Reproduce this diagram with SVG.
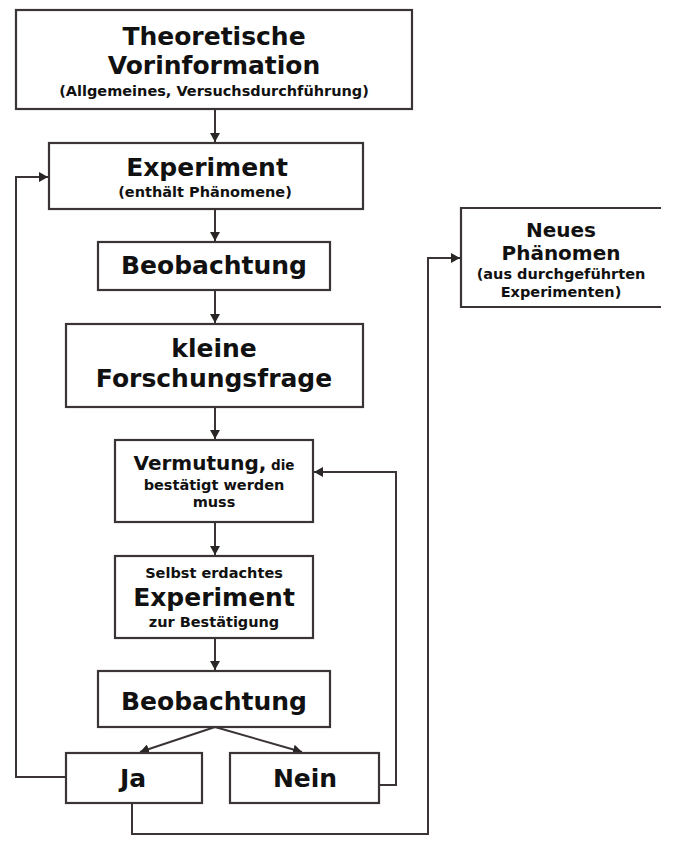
<svg xmlns="http://www.w3.org/2000/svg" width="673" height="853" viewBox="0 0 673 853">
<defs>
<marker id="ah" markerWidth="10" markerHeight="10" refX="9" refY="5" orient="auto" markerUnits="userSpaceOnUse">
<path d="M0,0 L9,5 L0,10 Z" fill="#2a2626"/>
</marker>
<style>
.box{fill:#fff;stroke:#3a3434;stroke-width:2.2}
.ln{fill:none;stroke:#3a3434;stroke-width:2}
text{font-family:"DejaVu Sans","Verdana",sans-serif;font-weight:bold;fill:#111;text-anchor:middle}
.big{font-size:25px}
.mid{font-size:20px}
.sm{font-size:14.5px}
.xs{font-size:14.5px}
</style>
</defs>
<rect width="673" height="853" fill="#fff"/>
<g id="connectors">
<path class="ln" d="M215,109 L215,142" marker-end="url(#ah)"/>
<path class="ln" d="M215,209 L215,241" marker-end="url(#ah)"/>
<path class="ln" d="M215,290 L215,323" marker-end="url(#ah)"/>
<path class="ln" d="M215,407 L215,439" marker-end="url(#ah)"/>
<path class="ln" d="M215,522 L215,555" marker-end="url(#ah)"/>
<path class="ln" d="M215,638 L215,670" marker-end="url(#ah)"/>
<path class="ln" d="M215,727 L140,752" marker-end="url(#ah)"/>
<path class="ln" d="M215,727 L302,752" marker-end="url(#ah)"/>
<path class="ln" d="M66,777 L16,777 L16,177 L48,177" marker-end="url(#ah)"/>
<path class="ln" d="M379,785 L396,785 L396,472 L314,472" marker-end="url(#ah)"/>
<path class="ln" d="M132,803 L132,834 L428,834 L428,258 L460,258" marker-end="url(#ah)"/>
</g>
<g id="n1">
<rect class="box" x="16" y="10" width="396" height="99"/>
<text class="big" x="214" y="45">Theoretische</text>
<text class="big" x="214" y="74">Vorinformation</text>
<text class="xs" x="214" y="96">(Allgemeines, Versuchsdurchführung)</text>
</g>
<g id="n2">
<rect class="box" x="49" y="143" width="314" height="66"/>
<text class="big" x="207" y="176">Experiment</text>
<text class="sm" x="205" y="197">(enthält Phänomene)</text>
</g>
<g id="n3">
<rect class="box" x="98" y="242" width="232" height="48"/>
<text class="big" x="214" y="274">Beobachtung</text>
</g>
<g id="n4">
<rect class="box" x="66" y="324" width="297" height="83"/>
<text class="big" x="214" y="357">kleine</text>
<text class="big" x="214" y="387">Forschungsfrage</text>
</g>
<g id="n5">
<rect class="box" x="115" y="440" width="198" height="82"/>
<text x="214" y="470"><tspan class="mid">Vermutung,</tspan><tspan font-size="13.5px"> die</tspan></text>
<text class="sm" x="214" y="490">bestätigt werden</text>
<text class="sm" x="214" y="507">muss</text>
</g>
<g id="n6">
<rect class="box" x="115" y="556" width="198" height="82"/>
<text class="sm" x="214" y="578">Selbst erdachtes</text>
<text class="big" x="214" y="606">Experiment</text>
<text class="sm" x="214" y="627">zur Bestätigung</text>
</g>
<g id="n7">
<rect class="box" x="98" y="671" width="232" height="56"/>
<text class="big" x="214" y="710">Beobachtung</text>
</g>
<g id="n8">
<rect class="box" x="66" y="753" width="136" height="50"/>
<text class="big" x="133" y="787">Ja</text>
</g>
<g id="n9">
<rect class="box" x="230" y="753" width="149" height="50"/>
<text class="big" x="305" y="787">Nein</text>
</g>
<g id="n10">
<path class="box" d="M661,208 L461,208 L461,307 L661,307"/>
<text class="mid" x="561" y="237">Neues</text>
<text class="mid" x="561" y="260">Phänomen</text>
<text class="xs" x="561" y="279">(aus durchgeführten</text>
<text class="xs" x="561" y="297">Experimenten)</text>
</g>
</svg>
